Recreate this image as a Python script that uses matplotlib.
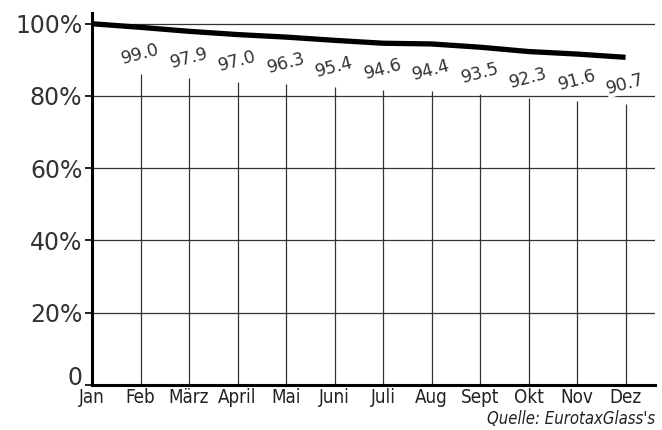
import matplotlib.pyplot as plt
import numpy as np

months = ["Jan", "Feb", "März", "April", "Mai", "Juni", "Juli", "Aug", "Sept", "Okt", "Nov", "Dez"]
values = [100.0, 99.0, 97.9, 97.0, 96.3, 95.4, 94.6, 94.4, 93.5, 92.3, 91.6, 90.7]
yticks = [0, 20, 40, 60, 80, 100]
ytick_labels = ["0", "20%", "40%", "60%", "80%", "100%"]
source = "Quelle: EurotaxGlass's"

plt.rcParams["font.family"] = ["DejaVu Sans"]

fig = plt.figure(figsize=(6.62, 4.30), dpi=100)
ax = fig.add_axes([0.139, 0.105, 0.85, 0.865])

x = np.arange(len(months))
vals = np.array(values)

for y in yticks[1:]:
    ax.axhline(y, color="#333333", lw=0.9, zorder=1)

# vertical guide lines stop below the value labels
ax.vlines(x[1:], 0, vals[1:] - 13, color="#333333", lw=0.9, zorder=1)

ax.plot(x, vals, color="black", lw=3.8, solid_capstyle="butt", zorder=3)

for xi, v in zip(x[1:], vals[1:]):
    ax.annotate(f"{v:.1f}", (xi, v), xytext=(0, -19), textcoords="offset points",
                ha="center", va="center", rotation=15, fontsize=12.5, color="#333333",
                bbox=dict(facecolor="white", edgecolor="none", pad=0.5), zorder=2)

ax.set_xlim(0, 11.6)
ax.set_ylim(0, 103)
ax.set_xticks(x)
ax.set_xticklabels(months, fontsize=13.5, color="#222222", fontstretch="condensed")
ax.set_yticks(yticks)
ax.set_yticklabels(ytick_labels, fontsize=17, color="#333333")
ax.get_yticklabels()[0].set_verticalalignment("baseline")
ax.tick_params(axis="x", length=0, pad=2)
ax.tick_params(axis="y", length=5, width=1.2, pad=2, direction="out")

for side in ["top", "right"]:
    ax.spines[side].set_visible(False)
ax.spines["left"].set_linewidth(2.2)
ax.spines["bottom"].set_linewidth(2.2)

fig.text(0.99, 0.004, source, ha="right", va="bottom", fontsize=12, style="italic",
         color="#222222", fontstretch="condensed")

fig.savefig("out.png", dpi=100)
